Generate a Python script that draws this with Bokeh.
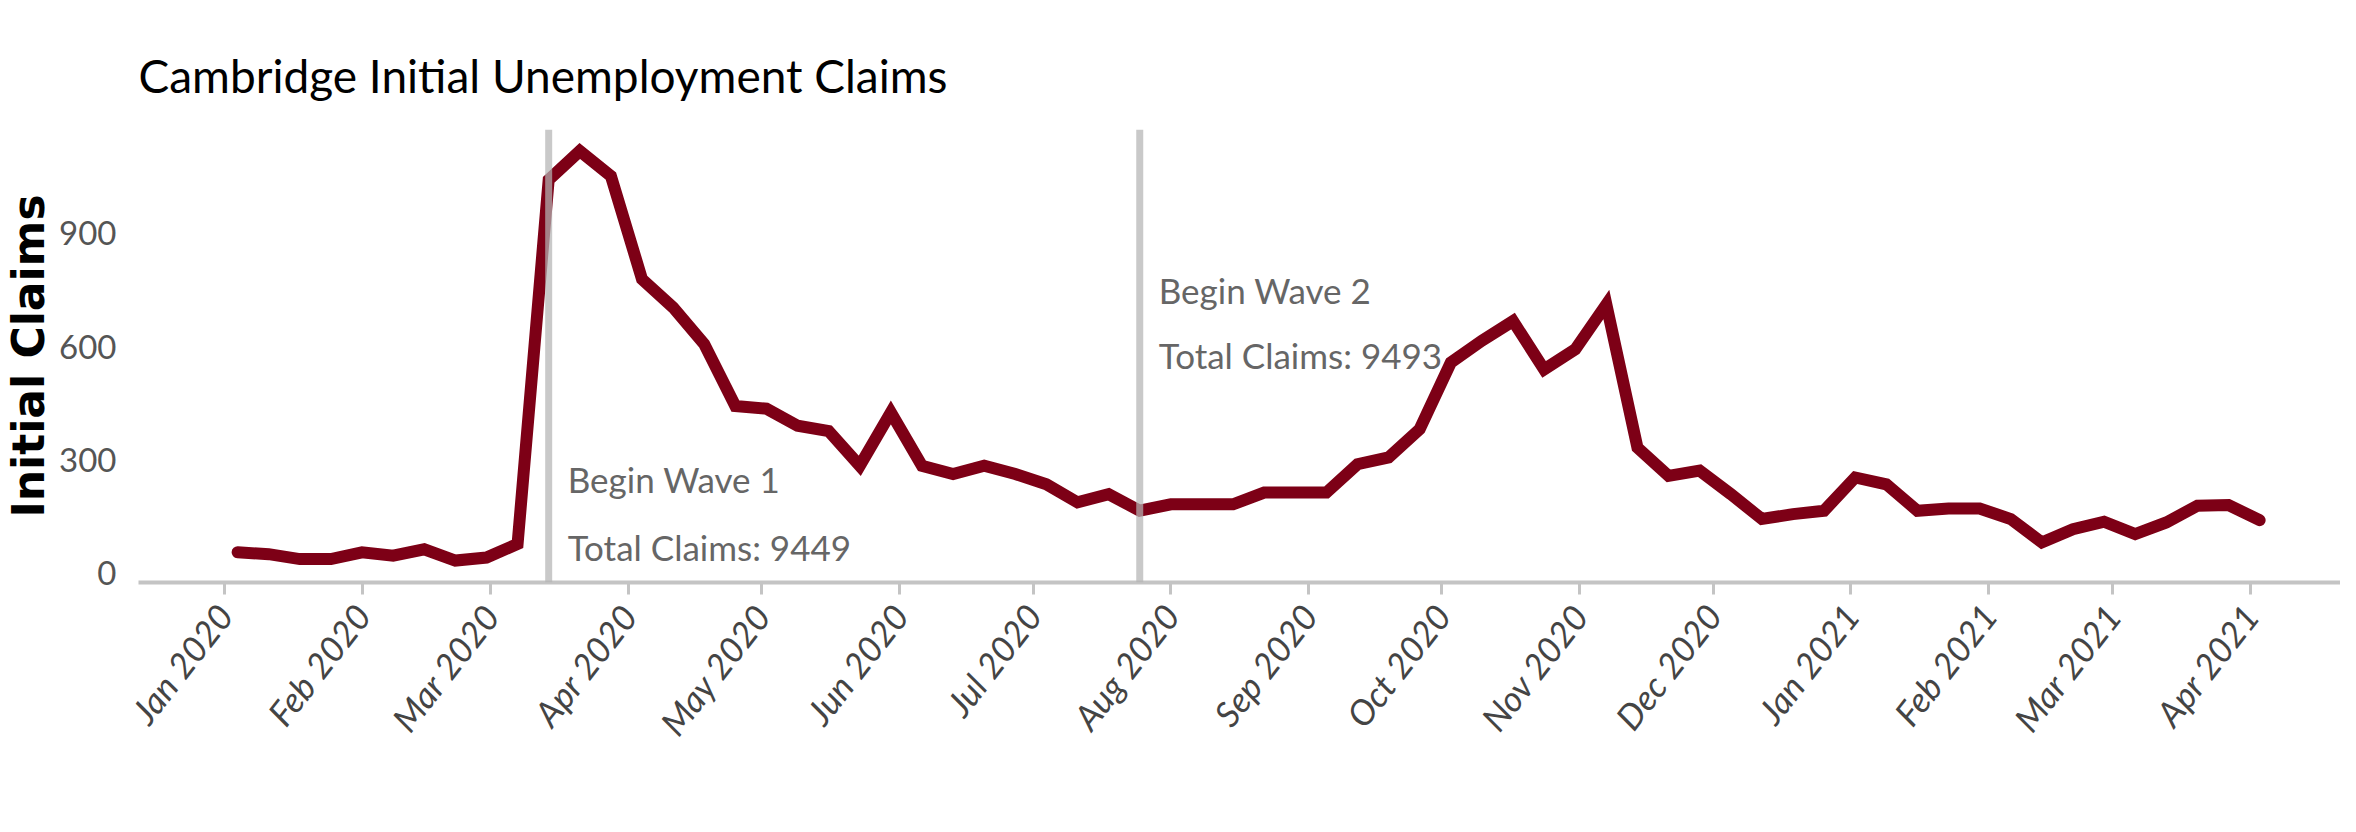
import math
import pandas as pd
from bokeh.plotting import figure
from bokeh.models import Span, FixedTicker, DatetimeTickFormatter, Range1d, ColumnDataSource
from bokeh.core.properties import value
from bokeh.embed import file_html
from bokeh.resources import INLINE

# ---- data ----
week_ending = pd.date_range("2020-01-04", "2021-04-03", freq="7D")
claims = [56, 51, 38, 38, 56, 47, 64, 34, 42, 78,
          1042, 1118, 1052, 779, 704, 607, 443, 436, 391, 377,
          285, 426, 285, 263, 285, 263, 236, 188, 210, 166,
          183, 183, 183, 214, 214, 214, 289, 307, 382, 558,
          616, 668, 540, 593, 712, 333, 258, 272, 210, 144,
          157, 166, 254, 236, 166, 172, 172, 144, 82, 117,
          137, 104, 135, 179, 181, 141]

wave_dates = [pd.Timestamp("2020-03-14"), pd.Timestamp("2020-07-25")]
note_dates = [pd.Timestamp("2020-03-14"), pd.Timestamp("2020-03-14"),
              pd.Timestamp("2020-07-25"), pd.Timestamp("2020-07-25")]
note_texts = ["Begin Wave 1", "Total Claims: 9449", "Begin Wave 2", "Total Claims: 9493"]
note_y = [249, 69, 749, 577]

month_ticks = pd.date_range("2020-01-01", "2021-04-01", freq="MS")
y_ticks = [0, 300, 600, 900]

FONT = "Lato"

def ms(ts):
    return ts.value / 1e6

day = 86400000.0
x0 = ms(pd.Timestamp("2020-01-01"))

p = figure(width=2340, height=816, x_axis_type="datetime",
           output_backend="svg", toolbar_location=None,
           x_range=Range1d(x0 - 19.3 * day, x0 + 476.2 * day),
           y_range=Range1d(-24, 1175),
           min_border_left=130, min_border_right=0,
           min_border_top=129, min_border_bottom=234)

p.background_fill_color = "white"
p.border_fill_color = "white"
p.outline_line_color = None
p.xgrid.grid_line_color = None
p.ygrid.grid_line_color = None

p.title.text = "Cambridge Initial Unemployment Claims"
p.title.text_font = FONT
p.title.text_font_size = "46px"
p.title.text_font_style = "normal"
p.title.text_color = "black"
p.title.align = "left"
p.title.standoff = 53

src = ColumnDataSource(dict(x=list(week_ending), y=claims))
p.line("x", "y", source=src, line_color="#7d0016", line_width=12,
       line_join="miter", line_cap="round")

for d in wave_dates:
    p.add_layout(Span(location=ms(d), dimension="height",
                      line_color="#b4b4b4", line_alpha=0.72, line_width=7))

tsrc = ColumnDataSource(dict(x=note_dates, y=note_y, t=note_texts))
p.text("x", "y", text="t", source=tsrc, x_offset=19,
       text_font=value(FONT), text_font_size="35px",
       text_color="#666666", text_align="left", text_baseline="alphabetic")

xa = p.xaxis[0]
xa.ticker = FixedTicker(ticks=[ms(t) for t in month_ticks])
fmt = "%b %Y"
xa.formatter = DatetimeTickFormatter(days=fmt, months=fmt, years=fmt,
                                     hours=fmt, minutes=fmt)
xa.axis_line_color = "#c4c4c4"
xa.axis_line_width = 4
xa.major_tick_line_color = "#c4c4c4"
xa.major_tick_line_width = 3
xa.major_tick_out = 12
xa.major_tick_in = 0
xa.minor_tick_line_color = None
xa.major_label_orientation = math.radians(52)
xa.major_label_text_font = FONT
xa.major_label_text_font_style = "italic"
xa.major_label_text_font_size = "35px"
xa.major_label_text_color = "#444444"
xa.major_label_standoff = 14

ya = p.yaxis[0]
ya.ticker = FixedTicker(ticks=y_ticks)
ya.axis_line_color = None
ya.major_tick_line_color = None
ya.minor_tick_line_color = None
ya.major_label_text_font = FONT
ya.major_label_text_font_size = "33px"
ya.major_label_text_color = "#555555"
ya.major_label_standoff = 16
ya.axis_label = "Initial Claims"
ya.axis_label_text_font = "DejaVu Sans"
ya.axis_label_text_font_style = "bold"
ya.axis_label_text_font_size = "44px"
ya.axis_label_text_color = "black"
ya.axis_label_standoff = 2

open("out.html", "w").write(file_html(p, INLINE))
